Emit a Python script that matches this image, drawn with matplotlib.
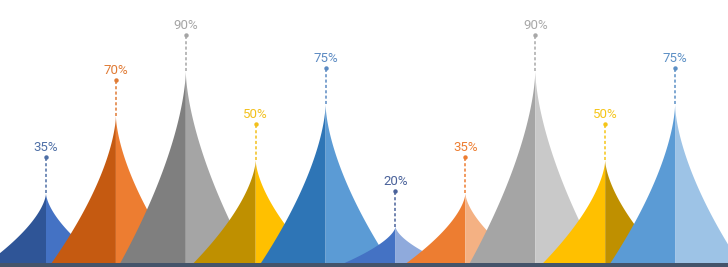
import numpy as np
import matplotlib
matplotlib.use("Agg")
import matplotlib.pyplot as plt
from matplotlib.patches import Rectangle
from matplotlib.transforms import offset_copy

# Values shown above each peak (percent)
values = [35, 70, 90, 50, 75, 20, 35, 90, 50, 75]
labels = [f"{v}%" for v in values]

# Left / right face colours of every peak and the label colour
left_colors = ["#2F5597", "#C55A11", "#7F7F7F", "#BF9000", "#2E75B6",
               "#4472C4", "#ED7D31", "#A5A5A5", "#FFC000", "#5B9BD5"]
right_colors = ["#4472C4", "#ED7D31", "#A5A5A5", "#FFC000", "#5B9BD5",
                "#8FAADC", "#F4B183", "#C9C9C9", "#BF9000", "#9DC3E6"]
label_colors = ["#4E6FA6", "#E07B35", "#A5A5A5", "#F2C01C", "#5B8AC2",
                "#4A629A", "#ED7D31", "#A8A8A8", "#F5C518", "#5B8FC5"]

W, H, DPI = 728, 267, 100
fig = plt.figure(figsize=(W / DPI, H / DPI), dpi=DPI)
ax = fig.add_axes([0, 0, 1, 1])
ax.set_axis_off()

step_px = 69.9          # pixels between peak centres
first_px = 46.0         # centre of the first peak
px_per_unit = 2.22      # vertical pixels per percent
zero_px_below = 4.0     # value 0 sits just under the bottom edge

ax.set_xlim(-first_px / step_px, (W - first_px) / step_px)
ax.set_ylim(zero_px_below / px_per_unit, (zero_px_below + H) / px_per_unit)

half_width = 1.0        # each peak spans two category slots
power = 1.6             # concavity of the peak edges
h = np.linspace(0, 1, 200)

for i, v in enumerate(values):
    spread = half_width * (1 - h) ** power
    ys = v * h
    # left face
    xl = np.concatenate([i - spread, [i, i]])
    yl = np.concatenate([ys, [v, 0]])
    ax.fill(xl, yl, color=left_colors[i], lw=0, zorder=2 + i)
    # right face
    xr = np.concatenate([i + spread, [i, i]])
    yr = np.concatenate([ys, [v, 0]])
    ax.fill(xr, yr, color=right_colors[i], lw=0, zorder=2 + i)

# Leader lines, dots and value labels
dot_gap = 36   # pixels between peak tip and dot
for i, v in enumerate(values):
    dot_tr = offset_copy(ax.transData, fig=fig, x=0, y=dot_gap, units="dots")
    txt_tr = offset_copy(ax.transData, fig=fig, x=0, y=dot_gap + 6, units="dots")
    top_y = v + dot_gap / px_per_unit
    ax.plot([i, i], [v, top_y], color=label_colors[i], lw=1.1,
            ls=(0, (2, 1.5)), zorder=20, solid_capstyle="butt")
    ax.plot([i], [v], marker="o", ms=3.2, color=label_colors[i],
            transform=dot_tr, zorder=21, mec="none")
    ax.text(i, v, labels[i], transform=txt_tr, ha="center", va="baseline",
            color=label_colors[i], fontsize=9.5, family=["Roboto", "DejaVu Sans"],
            zorder=22)

# Dark base strip along the bottom edge
ax.add_patch(Rectangle((0, 0), 1, 4 / H, transform=ax.transAxes,
                       color="#44546A", lw=0, zorder=40))

fig.savefig("out.png", dpi=DPI, facecolor="white")
